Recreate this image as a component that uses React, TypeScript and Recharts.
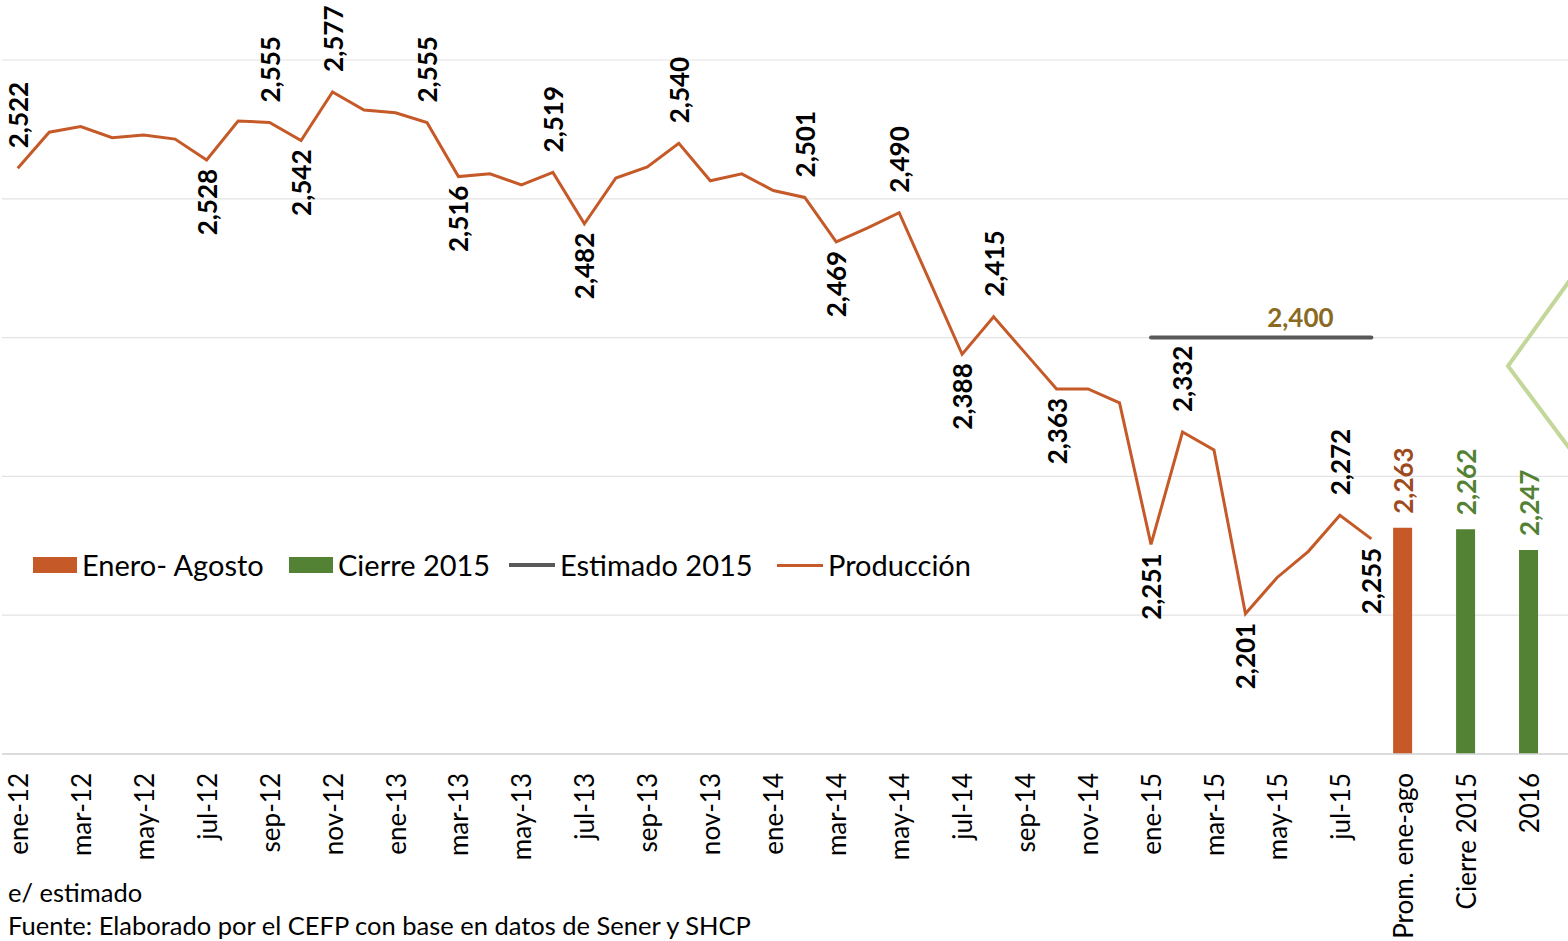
import React from "react";
import {
  ComposedChart,
  Line,
  Bar,
  XAxis,
  YAxis,
  CartesianGrid,
  LabelList,
  Legend,
} from "recharts";

const months = [
  "ene-12", "feb-12", "mar-12", "abr-12", "may-12", "jun-12", "jul-12", "ago-12", "sep-12", "oct-12", "nov-12", "dic-12",
  "ene-13", "feb-13", "mar-13", "abr-13", "may-13", "jun-13", "jul-13", "ago-13", "sep-13", "oct-13", "nov-13", "dic-13",
  "ene-14", "feb-14", "mar-14", "abr-14", "may-14", "jun-14", "jul-14", "ago-14", "sep-14", "oct-14", "nov-14", "dic-14",
  "ene-15", "feb-15", "mar-15", "abr-15", "may-15", "jun-15", "jul-15", "ago-15",
];
const summaryCategories = ["Prom. ene-ago", "", "Cierre 2015", "", "2016", ""];

// Producción mensual (miles de barriles diarios)
const produccion = [
  2522, 2548, 2552, 2544, 2546, 2543, 2528, 2556, 2555, 2542, 2577, 2564,
  2562, 2555, 2516, 2518, 2510, 2519, 2482, 2515, 2523, 2540, 2513, 2518,
  2506, 2501, 2469, 2479, 2490, 2439, 2388, 2415, 2389, 2363, 2363, 2353,
  2251, 2332, 2319, 2201, 2227, 2246, 2272, 2255,
];
const estimado2015 = [2400, 2400, 2400, 2400, 2400, 2400, 2400, 2400]; // ene-15 .. ago-15
const eneroAgosto = [2263];
const cierre2015 = [2262, 2247];

const labelsAbove = [0, 8, 10, 13, 17, 21, 25, 28, 31, 37, 42];
const labelsBelow = [6, 9, 14, 18, 26, 30, 33, 36, 39, 43];

const categories = [...months, ...summaryCategories];
const estStart = months.indexOf("ene-15");
const promIdx = months.length;
const cierreIdx = [months.length + 2, months.length + 4];

const data = categories.map((name, i) => ({
  name,
  produccion: i < produccion.length ? produccion[i] : null,
  estimado: i >= estStart && i < estStart + estimado2015.length ? estimado2015[i - estStart] : null,
  eneroAgosto: i === promIdx ? eneroAgosto[0] : null,
  cierre: cierreIdx.includes(i) ? cierre2015[cierreIdx.indexOf(i)] : null,
}));

const FONT = "Lato, 'Noto Sans', sans-serif";
const ORANGE = "#C55A28";
const GREEN = "#548235";
const fmt = (v: number) => v.toLocaleString("en-US");

const LineLabel = (props: any) => {
  const { x, y, value, index } = props;
  if (value == null) return null;
  let ty: number;
  let anchor: "start" | "end";
  if (labelsAbove.includes(index)) {
    ty = y - 20;
    anchor = "start";
  } else if (labelsBelow.includes(index)) {
    ty = y + 9;
    anchor = "end";
  } else return null;
  return (
    <text
      x={x}
      y={ty}
      transform={`rotate(-90 ${x} ${ty})`}
      textAnchor={anchor}
      dominantBaseline="central"
      fontFamily={FONT}
      fontWeight="bold"
      fontSize={26}
      fill="#000"
    >
      {fmt(value)}
    </text>
  );
};

const EstimadoLabel = (props: any) => {
  const { x, y, value, index } = props;
  if (value == null || index !== estStart + estimado2015.length - 3) return null;
  return (
    <text x={x - 8} y={y - 11} textAnchor="middle" fontFamily={FONT} fontWeight="bold" fontSize={26} fill="#8A6A22">
      {fmt(value)}
    </text>
  );
};

const barLabel = (color: string) => (props: any) => {
  const { x, y, width, value } = props;
  if (value == null) return null;
  const cx = x + width / 2;
  const ty = y - 14;
  return (
    <text
      x={cx}
      y={ty}
      transform={`rotate(-90 ${cx} ${ty})`}
      textAnchor="start"
      dominantBaseline="central"
      fontFamily={FONT}
      fontWeight="bold"
      fontSize={26}
      fill={color}
    >
      {fmt(value)}
    </text>
  );
};

const CategoryTick = (props: any) => {
  const { x, y, payload } = props;
  const ty = y + 11;
  return (
    <text
      x={x}
      y={ty}
      transform={`rotate(-90 ${x} ${ty})`}
      textAnchor="end"
      dominantBaseline="central"
      fontFamily={FONT}
      fontSize={26}
      fill="#000"
    >
      {payload.value}
    </text>
  );
};

const legendItems = [
  { label: "Enero- Agosto", kind: "rect", color: ORANGE, left: 33 },
  { label: "Cierre 2015", kind: "rect", color: GREEN, left: 289 },
  { label: "Estimado 2015", kind: "line", color: "#595959", left: 509 },
  { label: "Producción", kind: "line", color: ORANGE, left: 777 },
];

const LegendContent = () => (
  <div style={{ position: "relative", height: 40, width: 1000 }}>
    {legendItems.map((it) => (
      <div
        key={it.label}
        style={{ position: "absolute", left: it.left - 33, top: 0, display: "flex", alignItems: "center", whiteSpace: "nowrap" }}
      >
        {it.kind === "rect" ? (
          <span style={{ display: "inline-block", width: 44, height: 16, background: it.color }} />
        ) : (
          <span style={{ display: "inline-block", width: 46, height: it.label === "Producción" ? 3 : 4, background: it.color }} />
        )}
        <span style={{ marginLeft: 5, fontFamily: FONT, fontSize: 29, color: "#000", lineHeight: "36px" }}>{it.label}</span>
      </div>
    ))}
  </div>
);

export default function App() {
  return (
    <div style={{ position: "absolute", left: 0, top: 0, width: 1568, height: 941, overflow: "hidden", background: "#fff" }}>
      <ComposedChart
        width={1576}
        height={941}
        data={data}
        margin={{ top: 60, right: 0, bottom: 0, left: 2 }}
      >
        <CartesianGrid vertical={false} stroke="#e3e3e3" strokeWidth={1.2} />
        <XAxis
          dataKey="name"
          interval={1}
          tickLine={false}
          axisLine={{ stroke: "#d4d4d4", strokeWidth: 1.5 }}
          tick={<CategoryTick />}
          height={187}
        />
        <YAxis hide domain={[2100, 2600]} ticks={[2100, 2200, 2300, 2400, 2500, 2600]} allowDataOverflow />
        <Legend
          verticalAlign="middle"
          align="center"
          layout="horizontal"
          content={<LegendContent />}
          wrapperStyle={{ position: "absolute", left: 33, top: 547, width: 1000 }}
        />
        <Bar dataKey="eneroAgosto" name="Enero- Agosto" stackId="b" fill={ORANGE} barSize={19} isAnimationActive={false}>
          <LabelList dataKey="eneroAgosto" content={barLabel("#9E4A1F")} />
        </Bar>
        <Bar dataKey="cierre" name="Cierre 2015" stackId="b" fill={GREEN} barSize={19} isAnimationActive={false}>
          <LabelList dataKey="cierre" content={barLabel(GREEN)} />
        </Bar>
        <Line
          dataKey="estimado"
          name="Estimado 2015"
          stroke="#595959"
          strokeWidth={4}
          strokeLinecap="round"
          dot={false}
          activeDot={false}
          isAnimationActive={false}
        >
          <LabelList dataKey="estimado" content={<EstimadoLabel />} />
        </Line>
        <Line
          dataKey="produccion"
          name="Producción"
          stroke={ORANGE}
          strokeWidth={3}
          dot={false}
          activeDot={false}
          isAnimationActive={false}
        >
          <LabelList dataKey="produccion" content={<LineLabel />} />
        </Line>
      </ComposedChart>
      <svg width={1568} height={941} style={{ position: "absolute", left: 0, top: 0, pointerEvents: "none" }}>
        <polyline points="1570,280 1508,366 1570,449" fill="none" stroke="#C4D79B" strokeWidth={4} />
      </svg>
      <div style={{ position: "absolute", left: 8, top: 876, fontFamily: FONT, fontSize: 25.5, color: "#000", lineHeight: "33px" }}>
        <div>e/ estimado</div>
        <div>Fuente: Elaborado por el CEFP con base en datos de Sener y SHCP</div>
      </div>
    </div>
  );
}
